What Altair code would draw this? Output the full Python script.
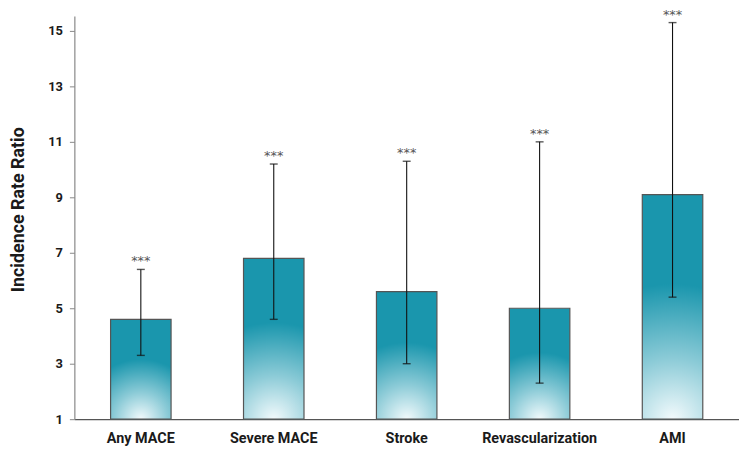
import altair as alt
import pandas as pd

# Incidence rate ratios with 95% CI.
OUTCOMES = ["Any MACE", "Severe MACE", "Stroke", "Revascularization", "AMI"]
IRR = [4.6, 6.8, 5.6, 5.0, 9.1]
CI_LOW = [3.3, 4.6, 3.0, 2.3, 5.4]
CI_HIGH = [6.4, 10.2, 10.3, 11.0, 15.3]
SIGNIF = ["***", "***", "***", "***", "***"]
Y_TICKS = [1, 3, 5, 7, 9, 11, 13, 15]

TEAL = "#1a96ad"
FONT = "Roboto"

df = pd.DataFrame(
    {"Outcome": OUTCOMES, "IRR": IRR, "Low": CI_LOW, "High": CI_HIGH, "Sig": SIGNIF}
)

x_enc = alt.X(
    "Outcome:N",
    sort=OUTCOMES,
    title=None,
    scale=alt.Scale(paddingInner=0.545, paddingOuter=0.2725),
    axis=alt.Axis(
        labelAngle=0,
        ticks=False,
        labelFont=FONT,
        labelFontSize=14.5,
        labelFontWeight="bold",
        labelColor="#1a1a1a",
        labelPadding=13,
        domainColor="#555555",
        domainWidth=1.2,
    ),
)
# 28 px per unit, plot top sits a few px below the page top
y_scale = alt.Scale(domain=[1, 15.536], nice=False, zero=False)

gradient = alt.RadialGradient(
    gradient="radial",
    stops=[
        alt.GradientStop(color="#f2fafc", offset=0),
        alt.GradientStop(color="#8ccbd7", offset=0.45),
        alt.GradientStop(color=TEAL, offset=1),
    ],
    x1=0.5, y1=1, r1=0,
    x2=0.5, y2=1, r2=0.6,
)

bars = (
    alt.Chart(df)
    .mark_bar(color=gradient, stroke="#555555", strokeWidth=1.2)
    .encode(
        x=x_enc,
        y=alt.Y(
            "IRR:Q",
            scale=y_scale,
            title="Incidence Rate Ratio",
            axis=alt.Axis(
                values=Y_TICKS,
                grid=False,
                tickSize=5,
                tickColor="#888888",
                domainColor="#888888",
                domainWidth=1.2,
                labelFont=FONT,
                labelFontSize=13,
                labelFontWeight="bold",
                labelColor="#1a1a1a",
                labelPadding=7,
                titleFont=FONT,
                titleFontSize=18,
                titleFontWeight="bold",
                titleColor="#1a1a1a",
                titleX=-56,
                titleY=195,
                titleAlign="center",
                titleBaseline="middle",
            ),
        ),
        y2=alt.Y2("__base:Q"),
    )
    .transform_calculate(__base="1")
)

whisker = (
    alt.Chart(df)
    .mark_rule(color="#111111", strokeWidth=1.1)
    .encode(x=alt.X("Outcome:N", sort=OUTCOMES), y=alt.Y("Low:Q", scale=y_scale), y2="High:Q")
)

caps_hi = (
    alt.Chart(df)
    .mark_tick(color="#111111", size=8, thickness=1.4, orient="horizontal")
    .encode(x=alt.X("Outcome:N", sort=OUTCOMES), y=alt.Y("High:Q", scale=y_scale))
)
caps_lo = (
    alt.Chart(df)
    .mark_tick(color="#111111", size=8, thickness=1.4, orient="horizontal")
    .encode(x=alt.X("Outcome:N", sort=OUTCOMES), y=alt.Y("Low:Q", scale=y_scale))
)

stars = (
    alt.Chart(df)
    .mark_text(baseline="bottom", dy=-1, fontSize=13, color="#555555", font="DejaVu Sans")
    .encode(x=alt.X("Outcome:N", sort=OUTCOMES), y=alt.Y("High:Q", scale=y_scale), text="Sig:N")
)

chart = (
    alt.layer(bars, whisker, caps_hi, caps_lo, stars)
    .properties(
        width=671,
        height=407,
        autosize="none",
        padding={"left": 67, "top": 6, "right": 0, "bottom": 30},
    )
    .configure(background="white")
    .configure_view(stroke=None)
)

chart.save("out.html", embed_options={"renderer": "svg", "actions": False})
